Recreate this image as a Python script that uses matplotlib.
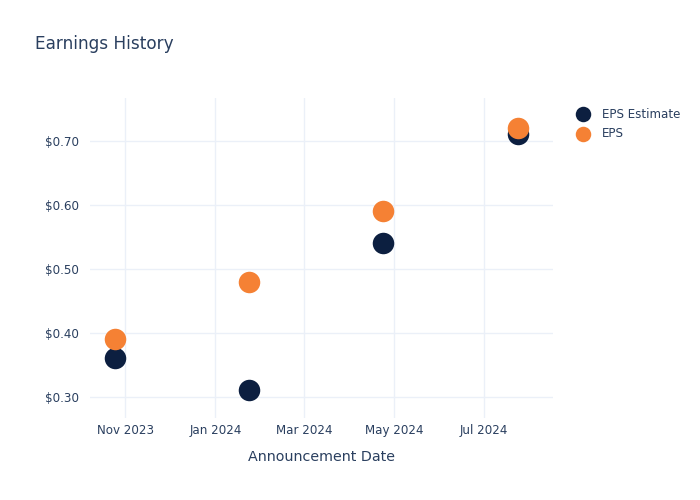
import datetime as dt
import matplotlib
matplotlib.use('Agg')
import matplotlib.pyplot as plt
import matplotlib.dates as mdates
from matplotlib.ticker import FuncFormatter

# data
dates = [dt.date(2023, 10, 25), dt.date(2024, 1, 24), dt.date(2024, 4, 24), dt.date(2024, 7, 24)]
eps_estimate = [0.36, 0.31, 0.54, 0.71]
eps_actual = [0.39, 0.48, 0.59, 0.72]
x_ticks = [dt.date(2023, 11, 1), dt.date(2024, 1, 1), dt.date(2024, 3, 1), dt.date(2024, 5, 1), dt.date(2024, 7, 1)]
y_ticks = [0.30, 0.40, 0.50, 0.60, 0.70]

text_color = '#2a3f5f'
grid_color = '#ebf0f8'
navy = '#0c1f40'
orange = '#f58134'

plt.rcParams['font.family'] = ['DejaVu Sans']

fig = plt.figure(figsize=(7, 5), dpi=100)
ax = fig.add_axes([90 / 700, 1 - 418 / 500, 463 / 700, 320 / 500])

ax.scatter(dates, eps_estimate, s=240, color=navy, label='EPS Estimate', zorder=3, linewidths=0)
ax.scatter(dates, eps_actual, s=240, color=orange, label='EPS', zorder=4, linewidths=0)

ax.set_xlim(dt.date(2023, 10, 8), dt.date(2024, 8, 17))
ax.set_ylim(0.267, 0.767)
ax.set_xticks(x_ticks)
ax.xaxis.set_major_formatter(mdates.DateFormatter('%b %Y'))
ax.set_yticks(y_ticks)
ax.yaxis.set_major_formatter(FuncFormatter(lambda v, p: f'${v:.2f}'))

ax.grid(True, color=grid_color, linewidth=1)
ax.set_axisbelow(True)
for s in ax.spines.values():
    s.set_visible(False)
ax.tick_params(length=0, labelsize=8.6, colors=text_color, pad=4)
ax.tick_params(axis='y', pad=8)

ax.set_xlabel('Announcement Date', fontsize=10.3, color=text_color, labelpad=9.5)

fig.text(35 / 700, 1 - 44 / 500, 'Earnings History', fontsize=12.2, color=text_color, va='center')

ax.legend(loc='upper left', bbox_to_anchor=(1.028, 0.985), frameon=False, fontsize=8.6,
          labelcolor=text_color, handletextpad=0.6, borderaxespad=0, labelspacing=0.55,
          markerscale=0.72)

fig.savefig('out.png', dpi=100)
